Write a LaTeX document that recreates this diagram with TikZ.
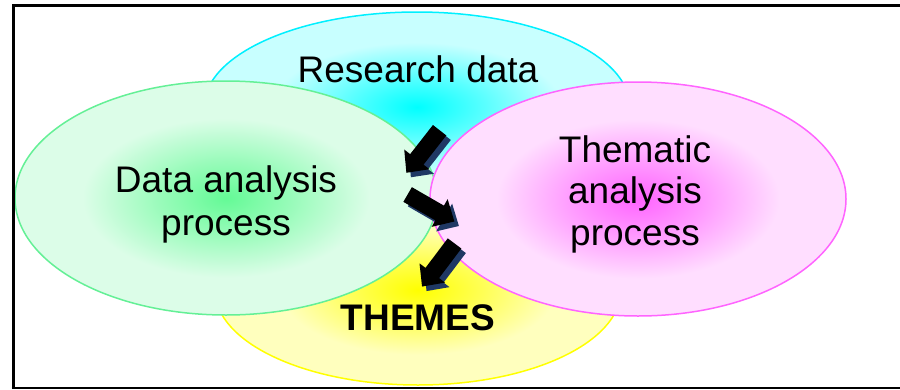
\documentclass[tikz,border=0pt]{standalone}
\usepackage{fontspec}
\setmainfont{Liberation Sans}
\usetikzlibrary{shapes.geometric}
\definecolor{cyanin}{RGB}{0,255,255}
\definecolor{cyanout}{RGB}{200,255,255}
\definecolor{cyanline}{RGB}{0,240,255}
\definecolor{greenin}{RGB}{100,250,150}
\definecolor{greenout}{RGB}{220,253,232}
\definecolor{greenline}{RGB}{100,240,150}
\definecolor{magin}{RGB}{255,100,255}
\definecolor{magout}{RGB}{255,222,255}
\definecolor{magline}{RGB}{255,100,255}
\definecolor{yelin}{RGB}{255,255,0}
\definecolor{yelout}{RGB}{255,255,190}
\definecolor{yelline}{RGB}{255,255,0}
\colorlet{cyanmid}{cyanin!55!cyanout}
\colorlet{greenmid}{greenin!55!greenout}
\colorlet{magmid}{magin!55!magout}
\colorlet{yelmid}{yelin!55!yelout}
\definecolor{arrshadow}{RGB}{31,56,100}
\pgfdeclareradialshading{cyanshade}{\pgfpoint{0bp}{0bp}}{color(0bp)=(cyanin); color(8bp)=(cyanmid); color(17bp)=(cyanout); color(50bp)=(cyanout)}
\pgfdeclareradialshading{greenshade}{\pgfpoint{0bp}{0bp}}{color(0bp)=(greenin); color(8bp)=(greenmid); color(17bp)=(greenout); color(50bp)=(greenout)}
\pgfdeclareradialshading{magshade}{\pgfpoint{0bp}{0bp}}{color(0bp)=(magin); color(8bp)=(magmid); color(17bp)=(magout); color(50bp)=(magout)}
\pgfdeclareradialshading{yelshade}{\pgfpoint{0bp}{0bp}}{color(0bp)=(yelin); color(8bp)=(yelmid); color(17bp)=(yelout); color(50bp)=(yelout)}
\tikzset{
  blob/.style={ellipse, inner sep=0pt, line width=1.5pt},
  lbl/.style={anchor=base, inner sep=0pt, font=\fontsize{37}{42}\selectfont},
}
\newcommand\bigarrow[3]{%
  \begin{scope}[shift={(#1+4.5,#2+4.5)},rotate=#3]
    \fill[arrshadow] (-27,-8.5) -- (10,-8.5) -- (10,-16) -- (27,0) -- (10,16) -- (10,8.5) -- (-27,8.5) -- cycle;
  \end{scope}
  \begin{scope}[shift={(#1,#2)},rotate=#3]
    \fill[black] (-27,-8.5) -- (10,-8.5) -- (10,-16) -- (27,0) -- (10,16) -- (10,8.5) -- (-27,8.5) -- cycle;
  \end{scope}}
\begin{document}
\begin{tikzpicture}[x=1pt,y=-1pt]
\useasboundingbox (0,0) rectangle (900,389);
\fill[white] (0,0) rectangle (900,389);
% ellipses
\node[blob, draw=cyanline, shading=cyanshade, minimum width=426pt, minimum height=190pt] (research) at (417,107) {};
\node[blob, draw=yelline, shading=yelshade, minimum width=406pt, minimum height=190pt] (themes) at (418,290) {};
\node[blob, draw=greenline, shading=greenshade, minimum width=422pt, minimum height=234pt] (data) at (226,198) {};
\node[blob, draw=magline, shading=magshade, minimum width=416pt, minimum height=234pt] (thematic) at (638,199) {};
% arrows
\bigarrow{423}{151.5}{232}
\bigarrow{431}{208}{-30}
\bigarrow{438.3}{265}{233}
% texts
\node[lbl] (t-research) at (418,82) {Research data};
\node[lbl] (t-data1) at (226,192) {Data analysis};
\node[lbl] (t-data2) at (226,235) {process};
\node[lbl] (t-them1) at (635,162) {Thematic};
\node[lbl] (t-them2) at (635,203) {analysis};
\node[lbl] (t-them3) at (635,245) {process};
\node[lbl, font=\fontsize{37}{42}\selectfont\bfseries] (t-themes) at (418,330) {THEMES};
% frame
\draw[line width=3.3pt] (13.3,389) -- (13.3,5.8) -- (900,5.8);
\draw[line width=1.5pt] (11.5,388.2) -- (900,388.2);
\end{tikzpicture}
\end{document}
